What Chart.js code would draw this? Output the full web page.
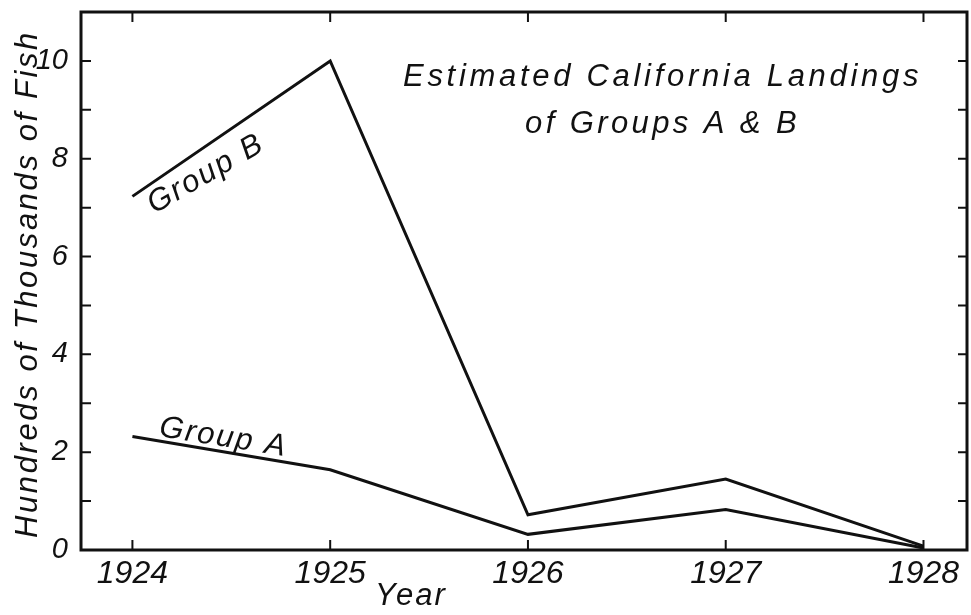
<!DOCTYPE html>
<html>
<head>
  <title>Estimated California Landings of Groups A & B</title>
  <script src="https://cdn.jsdelivr.net/npm/chart.js"></script>
  <style>
    html, body { margin: 0; padding: 0; background: #fff; }
    #wrap { width: 971px; height: 615px; }
  </style>
</head>
<body>
  <div id="wrap"><canvas id="chart"></canvas></div>

  <script>
    // values (hundreds of thousands of fish)
    const years = [1924, 1925, 1926, 1927, 1928];
    const groupB = [7.23, 10.0, 0.72, 1.45, 0.08];
    const groupA = [2.32, 1.64, 0.32, 0.83, 0.04];
    const yTickLabels = [0, 2, 4, 6, 8, 10];

    const ink = '#111';
    const family = '"Liberation Sans", Arial, sans-serif';
    const letterFont = 'italic 31px ' + family;

    const toPoints = vals => years.map((yr, i) => ({ x: yr, y: vals[i] }));

    // frame, inward ticks and the hand-lettered texts
    const lettering = {
      id: 'lettering',
      afterDraw(chart) {
        const { ctx, chartArea: a, scales: { x, y } } = chart;
        ctx.save();
        ctx.strokeStyle = ink;
        ctx.lineCap = 'butt';

        // inward ticks
        ctx.lineWidth = 2;
        ctx.beginPath();
        for (let v = 1; v <= 10; v++) {
          const py = y.getPixelForValue(v);
          ctx.moveTo(a.left, py); ctx.lineTo(a.left + 10, py);
          ctx.moveTo(a.right, py); ctx.lineTo(a.right - 9, py);
        }
        years.forEach(yr => {
          const px = x.getPixelForValue(yr);
          ctx.moveTo(px, a.bottom); ctx.lineTo(px, a.bottom - 10);
          ctx.moveTo(px, a.top); ctx.lineTo(px, a.top + 10);
        });
        ctx.stroke();

        // frame
        ctx.lineWidth = 3;
        ctx.strokeRect(a.left, a.top, a.right - a.left, a.bottom - a.top);

        ctx.fillStyle = ink;
        ctx.font = letterFont;
        ctx.textBaseline = 'alphabetic';

        // title
        ctx.letterSpacing = '3.7px';
        ctx.textAlign = 'left';
        ctx.fillText('Estimated California Landings', 403, 86);
        ctx.letterSpacing = '3.4px';
        ctx.fillText('of Groups A & B', 525, 133);

        // series labels
        ctx.letterSpacing = '2px';
        ctx.save();
        ctx.translate(x.getPixelForValue(1924.11), y.getPixelForValue(6.87));
        ctx.rotate(-30 * Math.PI / 180);
        ctx.fillText('Group B', 0, 0);
        ctx.restore();

        ctx.save();
        ctx.translate(x.getPixelForValue(1924.13), y.getPixelForValue(2.33));
        ctx.rotate(9 * Math.PI / 180);
        ctx.fillText('Group A', 0, 0);
        ctx.restore();

        // axis titles
        ctx.letterSpacing = '2px';
        ctx.fillText('Year', 375, 605);

        ctx.save();
        ctx.translate(37, 284);
        ctx.rotate(-Math.PI / 2);
        ctx.textAlign = 'center';
        ctx.letterSpacing = '2.6px';
        ctx.fillText('Hundreds of Thousands of Fish', 0, 0);
        ctx.restore();

        ctx.restore();
      }
    };

    const ctx = document.getElementById('chart').getContext('2d');
    new Chart(ctx, {
      type: 'line',
      data: {
        datasets: [
          { label: 'Group B', data: toPoints(groupB) },
          { label: 'Group A', data: toPoints(groupA) },
        ],
      },
      options: {
        responsive: true,
        maintainAspectRatio: false,
        animation: false,
        layout: { padding: { top: 12, right: 4, left: 0, bottom: 0 } },
        elements: {
          line: { borderColor: ink, borderWidth: 3, tension: 0, fill: false },
          point: { radius: 0, hoverRadius: 0 },
        },
        plugins: {
          legend: { display: false },
          tooltip: { enabled: false },
        },
        scales: {
          x: {
            type: 'linear',
            min: 1923.74,
            max: 1928.22,
            afterBuildTicks: scale => {
              scale.ticks = years.map(v => ({ value: v }));
            },
            afterFit: scale => {
              scale.height = 65;
              scale.paddingLeft = 0;
              scale.paddingRight = 0;
            },
            grid: { display: false },
            border: { display: false },
            ticks: {
              color: ink,
              padding: -3,
              font: { family, size: 32, style: 'italic' },
              callback: v => String(v),
            },
          },
          y: {
            min: 0,
            max: 11,
            afterBuildTicks: scale => {
              scale.ticks = yTickLabels.map(v => ({ value: v }));
            },
            afterFit: scale => {
              scale.width = 81;
              scale.paddingTop = 0;
              scale.paddingBottom = 0;
            },
            grid: { display: false },
            border: { display: false },
            ticks: {
              color: ink,
              padding: 5,
              font: { family, size: 29, style: 'italic' },
            },
          },
        },
      },
      plugins: [lettering],
    });
  </script>
</body>
</html>
